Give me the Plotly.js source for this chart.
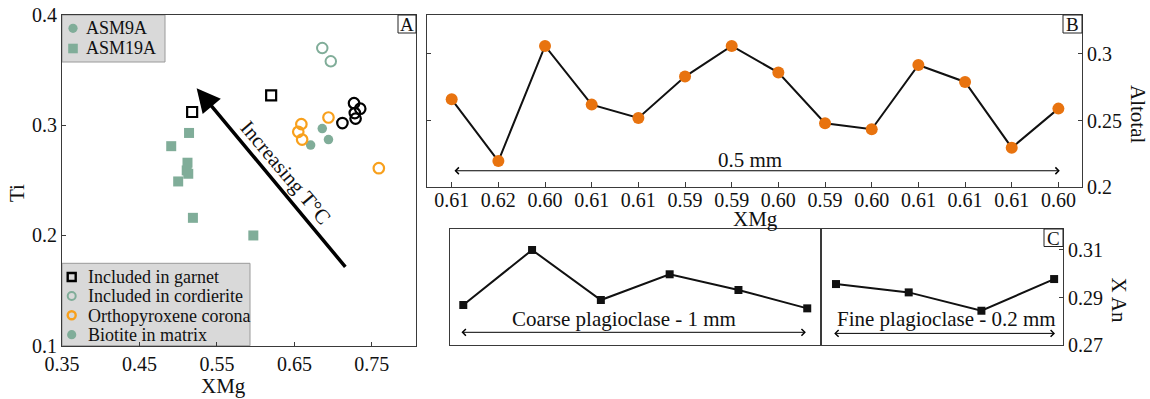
<!DOCTYPE html>
<html><head><meta charset="utf-8">
<script src="https://cdn.plot.ly/plotly-3.0.1.min.js"></script>
<style>html,body{margin:0;padding:0;background:#fff}#chart{width:1150px;height:399px}</style>
</head><body><div id="chart"></div>
<script>
// ---------- Panel A : Ti vs XMg (biotite) ----------
// ASM9A (circles)
const a9GarnetXMg = [0.712, 0.727, 0.735, 0.728, 0.729];
const a9GarnetTi  = [0.302, 0.320, 0.315, 0.311, 0.306];
const a9CordXMg   = [0.686, 0.697];
const a9CordTi    = [0.370, 0.358];
const a9OpxXMg    = [0.659, 0.655, 0.660, 0.694, 0.759];
const a9OpxTi     = [0.301, 0.294, 0.287, 0.307, 0.261];
const a9MatrixXMg = [0.671, 0.686, 0.694];
const a9MatrixTi  = [0.282, 0.297, 0.287];
// ASM19A (squares)
const a19GarnetXMg = [0.518, 0.620];
const a19GarnetTi  = [0.312, 0.327];
const a19MatrixXMg = [0.491, 0.514, 0.512, 0.511, 0.513, 0.500, 0.519, 0.597];
const a19MatrixTi  = [0.281, 0.293, 0.266, 0.259, 0.256, 0.249, 0.216, 0.200];
const aXTicks = [0.35, 0.45, 0.55, 0.65, 0.75];
const aYTicks = [0.1, 0.2, 0.3, 0.4];
const sampleLegend  = ['ASM9A', 'ASM19A'];
const settingLegend = ['Included in garnet', 'Included in cordierite', 'Orthopyroxene corona', 'Biotite in matrix'];

// ---------- Panel B : Altotal profile ----------
const bXMgLabels = ['0.61','0.62','0.60','0.61','0.61','0.59','0.59','0.60','0.59','0.60','0.61','0.61','0.61','0.60'];
const bAltotal   = [0.266, 0.2197, 0.306, 0.262, 0.252, 0.283, 0.306, 0.286, 0.248, 0.2435, 0.2917, 0.279, 0.2297, 0.259];
const bYTicks = [0.2, 0.25, 0.3];

// ---------- Panel C : X An profiles ----------
const coarseXAn = [0.2869, 0.3100, 0.2890, 0.2998, 0.2932, 0.2855];
const fineXAn   = [0.2957, 0.2922, 0.2845, 0.2978];
const cYTicks = [0.27, 0.29, 0.31];

// ---------- styling helpers ----------
const W = 1150, H = 399;
const px = x => x / W, py = y => 1 - y / H;
const FONT = '"Liberation Serif","Times New Roman",Times,serif';
const GREEN = '#80ad99', ORANGE_A = '#f8a01c', ORANGE_B = '#e8730f', AX = '#3a3a3a', TXT = '#111';
const idx = a => a.map((_, i) => i);

const traces = [
  {x: a19MatrixXMg, y: a19MatrixTi, mode: 'markers', xaxis: 'x', yaxis: 'y',
   marker: {symbol: 'square', size: 10, color: GREEN}},
  {x: a19GarnetXMg, y: a19GarnetTi, mode: 'markers', xaxis: 'x', yaxis: 'y',
   marker: {symbol: 'square-open', size: 10, color: '#000', line: {width: 2.2, color: '#000'}}},
  {x: a9MatrixXMg, y: a9MatrixTi, mode: 'markers', xaxis: 'x', yaxis: 'y',
   marker: {symbol: 'circle', size: 9.5, color: GREEN}},
  {x: a9CordXMg, y: a9CordTi, mode: 'markers', xaxis: 'x', yaxis: 'y',
   marker: {symbol: 'circle-open', size: 10.5, color: GREEN, line: {width: 2, color: GREEN}}},
  {x: a9OpxXMg, y: a9OpxTi, mode: 'markers', xaxis: 'x', yaxis: 'y',
   marker: {symbol: 'circle-open', size: 10.5, color: ORANGE_A, line: {width: 2.2, color: ORANGE_A}}},
  {x: a9GarnetXMg, y: a9GarnetTi, mode: 'markers', xaxis: 'x', yaxis: 'y',
   marker: {symbol: 'circle-open', size: 10.5, color: '#000', line: {width: 2.2, color: '#000'}}},
  {x: idx(bAltotal), y: bAltotal, mode: 'lines+markers', xaxis: 'x2', yaxis: 'y2',
   line: {color: '#111', width: 2}, marker: {symbol: 'circle', size: 12, color: ORANGE_B}},
  {x: idx(coarseXAn), y: coarseXAn, mode: 'lines+markers', xaxis: 'x3', yaxis: 'y3',
   line: {color: '#111', width: 2}, marker: {symbol: 'square', size: 8, color: '#111'}},
  {x: idx(fineXAn), y: fineXAn, mode: 'lines+markers', xaxis: 'x4', yaxis: 'y4',
   line: {color: '#111', width: 2}, marker: {symbol: 'square', size: 8, color: '#111'}}
].map(t => Object.assign({type: 'scatter', showlegend: false, hoverinfo: 'skip', cliponaxis: false}, t));

const axBase = {showgrid: false, zeroline: false, showline: true, linecolor: AX, linewidth: 1,
  ticks: 'inside', ticklen: 4, tickcolor: AX, tickwidth: 1, mirror: true,
  tickfont: {family: FONT, size: 20, color: TXT}, fixedrange: true};

const layout = {
  width: W, height: H, margin: {l: 0, r: 0, t: 0, b: 0},
  paper_bgcolor: '#fff', plot_bgcolor: 'rgba(0,0,0,0)',
  font: {family: FONT, color: TXT}, showlegend: false,
  xaxis: Object.assign({}, axBase, {domain: [px(62), px(416)], range: [0.35, 0.807], anchor: 'y',
    tickvals: aXTicks, ticktext: aXTicks.map(v => v.toFixed(2)), ticklabelstandoff: 0}),
  yaxis: Object.assign({}, axBase, {domain: [py(345.7), py(15)], range: [0.1, 0.4], anchor: 'x',
    tickvals: aYTicks, ticktext: aYTicks.map(v => v.toFixed(1))}),
  xaxis2: Object.assign({}, axBase, {domain: [px(427), px(1082)], range: [-0.529, 13.506], anchor: 'y2',
    tickvals: idx(bXMgLabels), ticktext: bXMgLabels, ticklen: 5, ticklabelstandoff: -5}),
  yaxis2: Object.assign({}, axBase, {domain: [py(187.3), py(15)], range: [0.2, 0.3292], anchor: 'x2',
    side: 'right', mirror: 'ticks', tickvals: bYTicks, ticktext: bYTicks.map(String)}),
  xaxis3: Object.assign({}, axBase, {domain: [px(450), px(821)], range: [-0.193, 5.2], anchor: 'y3',
    ticks: '', showticklabels: false}),
  yaxis3: Object.assign({}, axBase, {domain: [py(345.3), py(229)], range: [0.27, 0.3188], anchor: 'x3',
    ticks: '', showticklabels: false}),
  xaxis4: Object.assign({}, axBase, {domain: [px(821), px(1063)], range: [-0.206, 3.122], anchor: 'y4',
    ticks: '', showticklabels: false}),
  yaxis4: Object.assign({}, axBase, {domain: [py(345.3), py(229)], range: [0.27, 0.3188], anchor: 'x4',
    side: 'right', mirror: true, tickvals: cYTicks, ticktext: cYTicks.map(v => v.toFixed(2))}),
  shapes: [], annotations: []
};

// legend boxes (drawn under the axes)
const box = (x0, y0, x1, y1, fill, line, layer) => ({type: 'rect', xref: 'paper', yref: 'paper',
  x0: px(x0), x1: px(x1), y0: py(y1), y1: py(y0), fillcolor: fill, line: {color: line, width: 1}, layer: layer});
layout.shapes.push(box(62, 15, 165, 62, '#d9d9d9', '#9a9a9a', 'below'));
layout.shapes.push(box(62, 263.3, 250, 345.7, '#d9d9d9', '#9a9a9a', 'below'));
// panel letter boxes
layout.shapes.push(box(398, 15, 416, 33, '#fff', '#222', 'above'));
layout.shapes.push(box(1063, 15, 1082, 33, '#fff', '#222', 'above'));
layout.shapes.push(box(1044, 229, 1063, 246.5, '#fff', '#222', 'above'));

// legend swatches
const sw = (type, cx, cy, r, fill, line, lw) => ({type: type, xref: 'paper', yref: 'paper',
  x0: px(cx - r), x1: px(cx + r), y0: py(cy + r), y1: py(cy - r), fillcolor: fill,
  line: {color: line, width: lw}, layer: 'above'});
layout.shapes.push(sw('circle', 73, 28.3, 4.6, GREEN, GREEN, 0));
layout.shapes.push(sw('rect', 73, 48.5, 4.8, GREEN, GREEN, 0));
layout.shapes.push(sw('rect', 71.7, 277, 4, 'rgba(0,0,0,0)', '#000', 2.4));
layout.shapes.push(sw('circle', 71.7, 296, 4, 'rgba(0,0,0,0)', GREEN, 2));
layout.shapes.push(sw('circle', 71.7, 315.3, 4, 'rgba(0,0,0,0)', ORANGE_A, 2.4));
layout.shapes.push(sw('circle', 71.7, 334.7, 4.6, GREEN, GREEN, 0));

const txt = (text, x, y, size, opts) => Object.assign({text: text, x: x, y: y, xref: 'paper', yref: 'paper',
  showarrow: false, font: {family: FONT, size: size, color: TXT}, xanchor: 'center', yanchor: 'middle'}, opts || {});
const A = layout.annotations;
sampleLegend.forEach((s, i) => A.push(txt(s, px(84), py([28.3, 48.5][i]), 18, {xanchor: 'left'})));
settingLegend.forEach((s, i) => A.push(txt(s, px(85.5), py([277, 296.3, 315.5, 334.8][i]), 18, {xanchor: 'left'})));

// axis titles
A.push(txt('Ti', px(17), py(193), 21, {textangle: -90}));
A.push(txt('XMg', px(223), py(386), 21));
A.push(txt('XMg', px(755), py(219), 21));
A.push(txt('Altotal', px(1138), py(114), 21, {textangle: 90}));
A.push(txt('X An', px(1118.5), py(300), 21, {textangle: 90}));
// panel letters
A.push(txt('A', px(407), py(24.5), 19));
A.push(txt('B', px(1072.5), py(24.5), 19));
A.push(txt('C', px(1053.5), py(238), 19));

// panel A temperature arrow
A.push({xref: 'x', yref: 'y', axref: 'x', ayref: 'y', x: 0.5238, y: 0.3336, ax: 0.7174, ay: 0.1702,
  text: '', showarrow: true, arrowhead: 2, arrowsize: 1.35, arrowwidth: 3.5, arrowcolor: '#000'});
A.push({xref: 'x', yref: 'y', x: 0.6395, y: 0.2570, text: 'Increasing T°C', showarrow: false,
  textangle: 50, font: {family: FONT, size: 21, color: TXT}});

// double arrows (scale bars)
const dbl = (xr, yr, x0, x1, y) => ({xref: xr, yref: yr, axref: xr, ayref: yr, x: x1, y: y, ax: x0, ay: y,
  text: '', showarrow: true, arrowside: 'end+start', arrowhead: 4, startarrowhead: 4,
  arrowsize: 1.3, startarrowsize: 1.3, arrowwidth: 1, arrowcolor: '#000'});
A.push(dbl('x2', 'y2', 0.028, 13.03, 0.2124));
A.push(dbl('x3', 'y3', -0.048, 4.98, 0.27545));
A.push(dbl('x4', 'y4', -0.045, 3.012, 0.2750));
A.push({xref: 'x2', yref: 'y2', x: 6.385, y: 0.2202, text: '0.5 mm', showarrow: false,
  font: {family: FONT, size: 21, color: TXT}});
A.push({xref: 'x3', yref: 'y3', x: 2.336, y: 0.2812, text: 'Coarse plagioclase - 1 mm', showarrow: false,
  font: {family: FONT, size: 21, color: TXT}});
A.push({xref: 'x4', yref: 'y4', x: 1.513, y: 0.2812, text: 'Fine plagioclase - 0.2 mm', showarrow: false,
  font: {family: FONT, size: 21, color: TXT}});

Plotly.newPlot('chart', traces, layout, {staticPlot: true, displayModeBar: false});
</script></body></html>
